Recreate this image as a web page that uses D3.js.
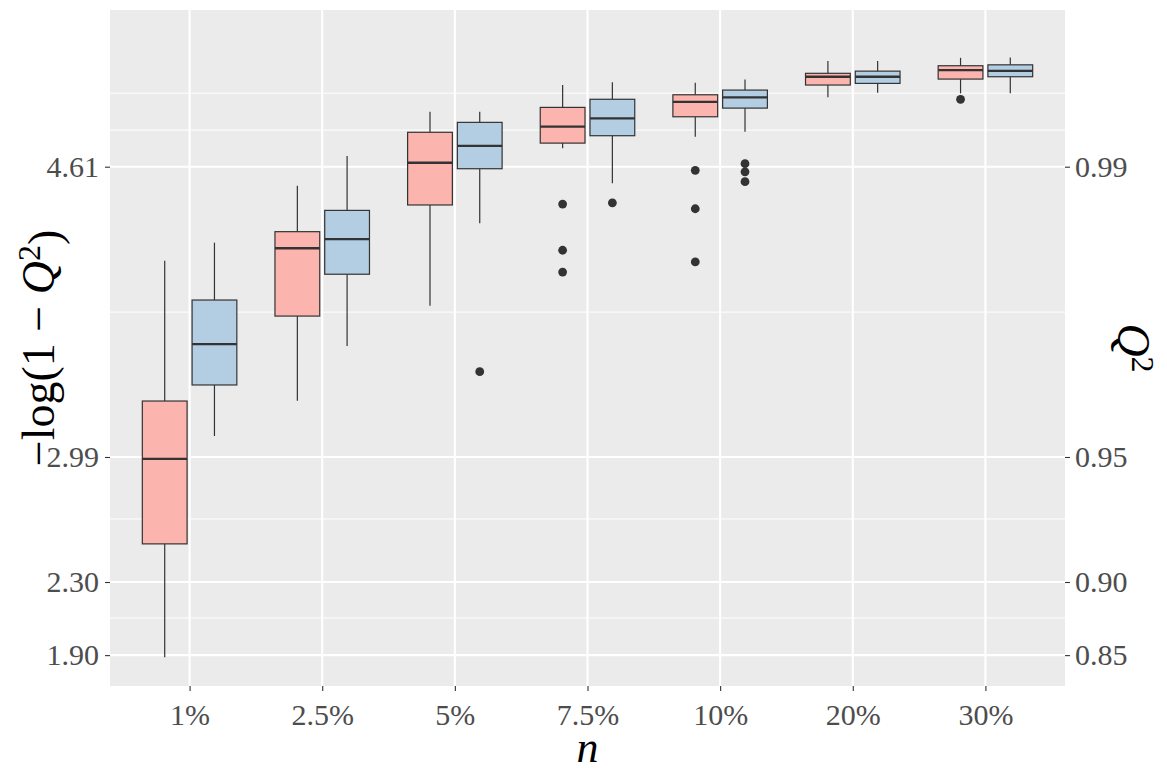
<!DOCTYPE html>
<meta charset="utf-8">

<style>
body {
  margin: 0;
  background: #fff;
}

.axis text {
  font: 30px "Liberation Serif", serif;
  fill: #4d4d4d;
}

.axis line {
  stroke: #333;
  stroke-width: 1.1px;
}

.axis path {
  display: none;
}

.title {
  font-family: "Liberation Serif", serif;
  fill: #000;
}

.grid-major {
  stroke: #fff;
  stroke-width: 2.1px;
}

.grid-minor {
  stroke: #fff;
  stroke-width: 1px;
}

.box {
  stroke: #333;
  stroke-width: 1.2px;
}

.whisker {
  stroke: #333;
  stroke-width: 1.2px;
}

.median {
  stroke: #333;
  stroke-width: 2.3px;
}

.outlier {
  fill: #333;
}
</style>

<svg width="1167" height="771"></svg>
<script src="https://d3js.org/d3.v7.min.js"></script>

<script>
// sample sizes on the x axis
var categories = ["1%", "2.5%", "5%", "7.5%", "10%", "20%", "30%"];

// per category: [lower whisker, Q1, median, Q3, upper whisker] in -log(1 - Q^2)
var redStats = [
  [1.885, 2.514, 2.985, 3.306, 4.084],
  [3.308, 3.777, 4.153, 4.245, 4.500],
  [3.834, 4.393, 4.627, 4.796, 4.910],
  [4.707, 4.736, 4.827, 4.934, 5.058],
  [4.771, 4.882, 4.965, 5.004, 5.071],
  [4.990, 5.058, 5.104, 5.123, 5.191],
  [5.012, 5.091, 5.141, 5.165, 5.209]
];
var blueStats = [
  [3.112, 3.395, 3.622, 3.866, 4.184],
  [3.611, 4.009, 4.204, 4.363, 4.664],
  [4.291, 4.594, 4.721, 4.851, 4.910],
  [4.513, 4.777, 4.873, 4.979, 5.073],
  [4.799, 4.930, 4.990, 5.030, 5.089],
  [5.015, 5.067, 5.104, 5.135, 5.191],
  [5.012, 5.104, 5.137, 5.170, 5.211]
];

var redOutliers = [[], [], [], [4.398, 4.142, 4.021], [4.585, 4.372, 4.077], [], [4.979]];
var blueOutliers = [[], [], [3.469], [4.405], [4.622, 4.577, 4.522], [], []];

// Q^2 breaks shown on both axes
var q2Breaks = [0.85, 0.90, 0.95, 0.99];
var leftLabels = ["1.90", "2.30", "2.99", "4.61"];
var rightLabels = ["0.85", "0.90", "0.95", "0.99"];
var minorBreaks = [2.103, 2.652, 3.799, 4.808, 5.013];

var svg = d3.select("svg"),
    margin = {top: 10, right: 102, bottom: 85, left: 110},
    width = svg.attr("width") - margin.left - margin.right,
    height = svg.attr("height") - margin.top - margin.bottom,
    g = svg.append("g").attr("transform", "translate(" + margin.left + "," + margin.top + ")");

var breakValues = q2Breaks.map(function(q) { return -Math.log(1 - q); });

var x = d3.scalePoint().domain(categories).range([0, width]).padding(0.6),
    y = d3.scaleLinear().domain([1.726, 5.474]).range([height, 0]);

var step = x.step(),
    boxW = 0.3375 * step,
    offsets = [-0.1875 * step, 0.1875 * step];

// panel
g.append("rect")
    .attr("width", width)
    .attr("height", height)
    .attr("fill", "#ebebeb");

g.selectAll(".grid-minor")
    .data(minorBreaks)
  .enter().append("line")
    .attr("class", "grid-minor")
    .attr("x1", 0).attr("x2", width)
    .attr("y1", function(d) { return y(d); })
    .attr("y2", function(d) { return y(d); });

g.selectAll(".grid-major.h")
    .data(breakValues)
  .enter().append("line")
    .attr("class", "grid-major h")
    .attr("x1", 0).attr("x2", width)
    .attr("y1", function(d) { return y(d); })
    .attr("y2", function(d) { return y(d); });

g.selectAll(".grid-major.v")
    .data(categories)
  .enter().append("line")
    .attr("class", "grid-major v")
    .attr("y1", 0).attr("y2", height)
    .attr("x1", function(d) { return x(d); })
    .attr("x2", function(d) { return x(d); });

// axes
g.append("g")
    .attr("class", "axis axis--x")
    .attr("transform", "translate(0," + height + ")")
    .call(d3.axisBottom(x).tickSize(5).tickPadding(7))
    .selectAll("text").attr("dy", "0.9em");

g.append("g")
    .attr("class", "axis axis--y")
    .call(d3.axisLeft(y).tickValues(breakValues).tickSize(5).tickPadding(6)
      .tickFormat(function(d, i) { return leftLabels[i]; }));

g.append("g")
    .attr("class", "axis axis--y2")
    .attr("transform", "translate(" + width + ",0)")
    .call(d3.axisRight(y).tickValues(breakValues).tickSize(5).tickPadding(5)
      .tickFormat(function(d, i) { return rightLabels[i]; }));

// boxes
var series = [
  {stats: redStats, outliers: redOutliers, fill: "#fbb4ae"},
  {stats: blueStats, outliers: blueOutliers, fill: "#b3cde3"}
];

series.forEach(function(s, k) {
  var rows = s.stats.map(function(d, i) {
    return {cat: categories[i], v: d, out: s.outliers[i]};
  });
  var grp = g.selectAll(".series" + k)
      .data(rows)
    .enter().append("g")
      .attr("class", "series" + k)
      .attr("transform", function(d) { return "translate(" + (x(d.cat) + offsets[k]) + ",0)"; });

  grp.append("line")
      .attr("class", "whisker")
      .attr("y1", function(d) { return y(d.v[4]); })
      .attr("y2", function(d) { return y(d.v[3]); });
  grp.append("line")
      .attr("class", "whisker")
      .attr("y1", function(d) { return y(d.v[1]); })
      .attr("y2", function(d) { return y(d.v[0]); });

  grp.append("rect")
      .attr("class", "box")
      .attr("x", -boxW / 2)
      .attr("width", boxW)
      .attr("y", function(d) { return y(d.v[3]); })
      .attr("height", function(d) { return y(d.v[1]) - y(d.v[3]); })
      .attr("fill", s.fill);

  grp.append("line")
      .attr("class", "median")
      .attr("x1", -boxW / 2).attr("x2", boxW / 2)
      .attr("y1", function(d) { return y(d.v[2]); })
      .attr("y2", function(d) { return y(d.v[2]); });

  grp.selectAll(".outlier")
      .data(function(d) { return d.out; })
    .enter().append("circle")
      .attr("class", "outlier")
      .attr("r", 4.4)
      .attr("cy", function(d) { return y(d); });
});

// titles
var ytitle = svg.append("text")
    .attr("class", "title")
    .attr("transform", "translate(54," + (margin.top + height / 2) + ") rotate(-90)")
    .attr("text-anchor", "middle")
    .style("font-size", "46px");
ytitle.append("tspan").text("\u2212log(1 \u2212 ");
ytitle.append("tspan").style("font-style", "italic").text("Q");
ytitle.append("tspan").attr("dy", "-0.45em").style("font-size", "32px").text("2");
ytitle.append("tspan").attr("dy", "0.45em").text(")");

svg.append("text")
    .attr("class", "title")
    .attr("x", margin.left + width / 2)
    .attr("y", 762)
    .attr("text-anchor", "middle")
    .style("font-size", "44px")
    .style("font-style", "italic")
    .text("n");

var rtitle = svg.append("text")
    .attr("class", "title")
    .attr("transform", "translate(1118," + (margin.top + height / 2) + ") rotate(90)")
    .attr("text-anchor", "middle")
    .style("font-size", "46px");
rtitle.append("tspan").style("font-style", "italic").text("Q");
rtitle.append("tspan").attr("dy", "-0.45em").style("font-size", "32px").text("2");
</script>
